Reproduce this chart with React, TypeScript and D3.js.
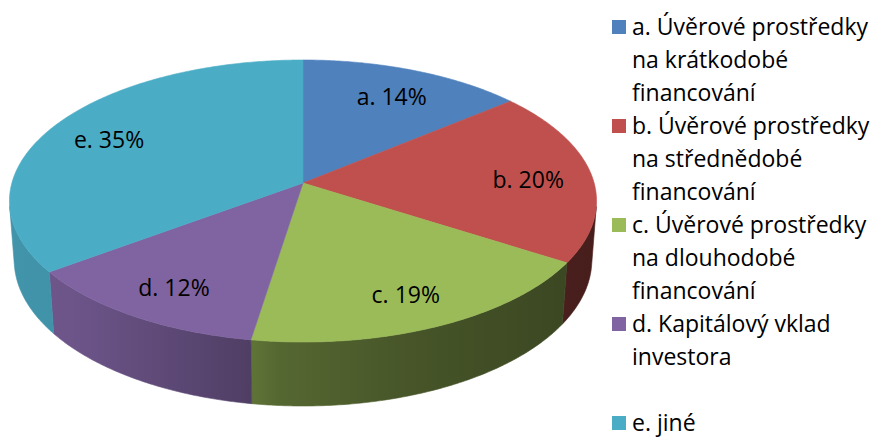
import React from "react";
import * as d3 from "d3";

const categories = [
  "a. Úvěrové prostředky na krátkodobé financování",
  "b. Úvěrové prostředky na střednědobé financování",
  "c. Úvěrové prostředky na dlouhodobé financování",
  "d. Kapitálový vklad investora",
  "e. jiné",
];
const legendLines = [
  ["a. Úvěrové prostředky", "na krátkodobé", "financování"],
  ["b. Úvěrové prostředky", "na střednědobé", "financování"],
  ["c. Úvěrové prostředky", "na dlouhodobé", "financování"],
  ["d. Kapitálový vklad", "investora"],
  ["e. jiné"],
];
const shortLabels = ["a.", "b.", "c.", "d.", "e."];
const values = [14, 20, 18.5, 12.4, 35.1];
const colors = ["#4f81bd", "#c0504d", "#9bbb59", "#8064a2", "#4bacc6"];

// wall shading stops (offset, brightness factor)
const shadeStops: [number, number][] = [
  [0, 0.86],
  [0.1, 0.85],
  [0.4, 0.63],
  [0.46, 0.55],
  [0.7, 0.45],
  [1, 0.37],
];

const FONT = "'Open Sans', sans-serif";

export default function App() {
  const W = 877;
  const H = 438;
  // perspective camera
  const cx = 303;
  const cy = 183;
  const F = 2003;
  const L = 6.88;
  const sinT = 0.4765;
  const cosT = 0.879;
  const depthH = 0.232;

  const proj = (phi: number, r: number, z: number): [number, number] => {
    const x = r * Math.sin(phi);
    const y = -r * Math.cos(phi);
    const dep = L - y * cosT - z * sinT;
    return [cx + (F * x) / dep, cy + (F * (y * sinT - z * cosT)) / dep];
  };

  const arcPts = (a0: number, a1: number, z: number): [number, number][] => {
    const n = Math.max(2, Math.ceil(Math.abs(a1 - a0) / 0.01));
    return d3.range(n + 1).map((i) => proj(a0 + ((a1 - a0) * i) / n, 1, z));
  };

  const arcs = d3
    .pie<number>()
    .sort(null)
    .value((d) => d)
    .startAngle(0)
    .endAngle(2 * Math.PI)(values);

  const closed = d3.line().curve(d3.curveLinearClosed);

  // visible wall range
  const visLo = Math.acos(-1 / (L * cosT));
  const visHi = 2 * Math.PI - visLo;

  const xLeft = proj(-Math.PI / 2, 1, 0)[0];
  const xRight = proj(Math.PI / 2, 1, 0)[0];

  const total = d3.sum(values);
  const labelR = 0.78;

  const legendX = 612;
  const legendBase0 = 35;
  const lineH = 33.0;

  return (
    <svg
      width={W}
      height={H}
      style={{ position: "absolute", left: 0, top: 0, background: "#fff" }}
    >
      <defs>
        {arcs.map((a, i) => (
          <linearGradient
            key={i}
            id={`wall${i}`}
            gradientUnits="userSpaceOnUse"
            x1={xLeft}
            x2={xRight}
            y1={0}
            y2={0}
          >
            {shadeStops.map(([o, f], j) => {
              const c = d3.rgb(colors[i]);
              return (
                <stop
                  key={j}
                  offset={o}
                  stopColor={d3.rgb(c.r * f, c.g * f, c.b * f).formatHex()}
                />
              );
            })}
          </linearGradient>
        ))}
      </defs>
      {/* walls */}
      {arcs.map((a, i) => {
        const a0 = Math.max(a.startAngle, visLo);
        const a1 = Math.min(a.endAngle, visHi);
        if (a1 <= a0) return null;
        const pts = [...arcPts(a0, a1, 0), ...arcPts(a1, a0, -depthH)];
        return (
          <path
            key={`w${i}`}
            d={closed(pts) || ""}
            fill={`url(#wall${i})`}
            stroke={`url(#wall${i})`}
            strokeWidth={0.6}
          />
        );
      })}
      {/* top faces */}
      {arcs.map((a, i) => {
        const pts: [number, number][] = [
          proj(0, 0, 0),
          ...arcPts(a.startAngle, a.endAngle, 0),
        ];
        return (
          <path
            key={`t${i}`}
            d={closed(pts) || ""}
            fill={colors[i]}
            stroke={colors[i]}
            strokeWidth={0.6}
            strokeLinejoin="round"
          />
        );
      })}
      {/* data labels */}
      {arcs.map((a, i) => {
        const mid = (a.startAngle + a.endAngle) / 2;
        const [x, y] = proj(mid, labelR, 0);
        return (
          <text
            key={`l${i}`}
            x={x}
            y={y + 3}
            textAnchor="middle"
            dominantBaseline="central"
            fontFamily={FONT}
            fontSize={23}
            fill="#000"
          >
            {`${shortLabels[i]} ${Math.round((values[i] / total) * 100)}%`}
          </text>
        );
      })}
      {/* legend */}
      {legendLines.map((lines, i) => {
        const base = legendBase0 + lineH * 3 * i;
        return (
          <g key={`g${i}`}>
            <title>{categories[i]}</title>
            <rect x={legendX} y={base - 15} width={14} height={14} fill={colors[i]} />
            {lines.map((t, j) => (
              <text
                key={j}
                x={legendX + 20}
                y={base + j * lineH}
                fontFamily={FONT}
                fontSize={23}
                fill="#000"
              >
                {t}
              </text>
            ))}
          </g>
        );
      })}
    </svg>
  );
}
